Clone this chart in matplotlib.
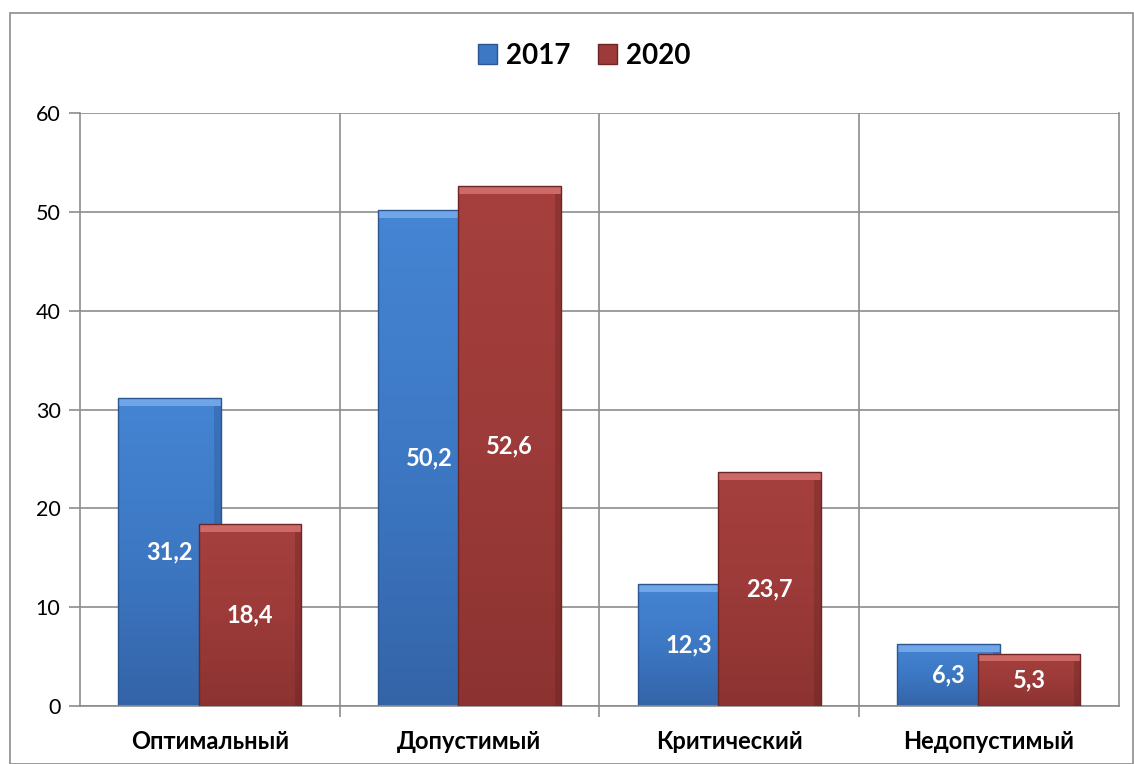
import numpy as np
import matplotlib
matplotlib.use("Agg")
import matplotlib.pyplot as plt
from matplotlib.colors import LinearSegmentedColormap
from matplotlib.patches import Patch, Rectangle

categories = ["Оптимальный", "Допустимый", "Критический", "Недопустимый"]
years = ["2017", "2020"]
values_2017 = [31.2, 50.2, 12.3, 6.3]
values_2020 = [18.4, 52.6, 23.7, 5.3]

plt.rcParams['font.family'] = ['Lato', 'DejaVu Sans']

blue_cm = LinearSegmentedColormap.from_list("b", ["#3464a8", "#3d78c4", "#4585d3"])
red_cm = LinearSegmentedColormap.from_list("r", ["#8c3331", "#9c3b39", "#a5403e"])


def gradient_bar(ax, x, h, w, cmap, edge, top, side, z):
    # bar with vertical gradient, clipped to the rectangle
    rect = Rectangle((x - w / 2, 0), w, h, facecolor="none", edgecolor=edge, lw=1.0, zorder=z + 0.3)
    ax.add_patch(rect)
    grad = np.linspace(0, 1, 256).reshape(-1, 1)
    im = ax.imshow(grad, cmap=cmap, aspect="auto", origin="lower",
                   extent=(x - w / 2, x + w / 2, 0, h), zorder=z)
    im.set_clip_path(rect)
    # bevel: light top, darker right edge
    bev = min(0.8, h * 0.15)
    ax.add_patch(Rectangle((x - w / 2, h - bev), w, bev, facecolor=top,
                           edgecolor="none", alpha=0.75, zorder=z + 0.1))
    ax.add_patch(Rectangle((x + w / 2 - 0.025, 0), 0.025, h - bev, facecolor=side,
                           edgecolor="none", alpha=0.3, zorder=z + 0.1))


fig = plt.figure(figsize=(11.34, 7.64), dpi=100)
fig.patches.append(Rectangle((0.009, 0.0), 0.99, 0.983, transform=fig.transFigure,
                             fill=False, edgecolor="#8c8c8c", lw=1.2))
ax = fig.add_axes([0.0705, 0.0759, 0.916, 0.776])

x = np.arange(len(categories))
w = 0.395
off = 0.155
for i in range(len(categories)):
    gradient_bar(ax, x[i] - off, values_2017[i], w, blue_cm, "#2b5690", "#80b2f0", "#244b82", 2)
    gradient_bar(ax, x[i] + off, values_2020[i], w, red_cm, "#6e2624", "#dc7874", "#5e1f1e", 3)
    ax.text(x[i] - off, values_2017[i] / 2, f"{values_2017[i]:.1f}".replace(".", ","),
            ha="center", va="center", color="white", fontsize=17, fontweight="bold", zorder=5)
    ax.text(x[i] + off, values_2020[i] / 2, f"{values_2020[i]:.1f}".replace(".", ","),
            ha="center", va="center", color="white", fontsize=17, fontweight="bold", zorder=5)

ax.set_xlim(-0.5, len(categories) - 0.5)
ax.set_ylim(0, 60)
ax.set_yticks(range(0, 61, 10))
ax.set_xticks(x)
ax.set_xticklabels(categories, fontsize=17, fontweight="bold")
ax.set_xticks(np.arange(0.5, len(categories) - 0.5, 1), minor=True)
ax.tick_params(axis="x", which="major", length=0, pad=17)
ax.tick_params(axis="x", which="minor", length=8, color="#8c8c8c", width=1.2)
ax.tick_params(axis="y", labelsize=15.5, length=8, color="#8c8c8c", width=1.2, pad=6)
ax.grid(axis="y", color="#8c8c8c", lw=1.2, zorder=0)
ax.grid(axis="x", which="minor", color="#8c8c8c", lw=1.2, zorder=0)
ax.set_axisbelow(True)
ax.spines["top"].set_visible(False)
for s in ["left", "bottom", "right"]:
    ax.spines[s].set_color("#8c8c8c")
    ax.spines[s].set_linewidth(1.2)

handles = [Patch(facecolor="#3d78c4", edgecolor="#2b5690"),
           Patch(facecolor="#9c3b39", edgecolor="#6e2624")]
fig.legend(handles, years, loc="center", bbox_to_anchor=(0.515, 0.927), ncol=2,
           frameon=False, prop={"size": 20, "weight": "bold"},
           handlelength=0.7, handleheight=0.7, handletextpad=0.3, columnspacing=1.0)

fig.savefig("out.png", dpi=100)
